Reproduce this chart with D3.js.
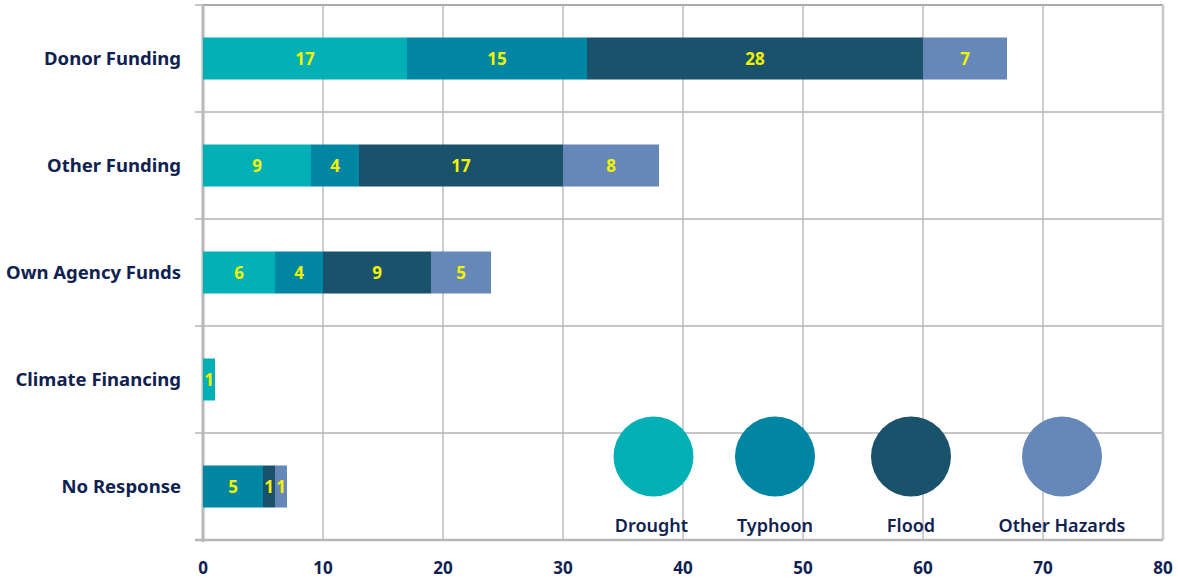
<!DOCTYPE html>
<html><head><meta charset="utf-8">
<script src="https://cdn.jsdelivr.net/npm/d3@7"></script>
<style>body{margin:0;background:#fff;}svg{display:block;font-family:"Noto Sans",sans-serif;}</style>
</head><body><svg id="c" width="1178" height="579"></svg>
<script>
const categories = ["Donor Funding","Other Funding","Own Agency Funds","Climate Financing","No Response"];
const seriesNames = ["Drought","Typhoon","Flood","Other Hazards"];
const drought = [17,9,6,1,0];
const typhoon = [15,4,4,0,5];
const flood = [28,17,9,0,1];
const otherHazards = [7,8,5,0,1];
const xTicks = [0,10,20,30,40,50,60,70,80];
const colors = ["#00b0b5","#0086a3","#1b526b","#6588b9"];

const svg = d3.select("#c");
const L = 203, R = 1163, T = 5, B = 540;
const x = d3.scaleLinear().domain([0,80]).range([L,R]);
const y = d3.scaleBand().domain(categories).range([T,B]).paddingInner(0).paddingOuter(0);
const barH = 42;
const navy = "#0f2150", grid = "#b3b3b3";

svg.append("g").selectAll("line").data(xTicks.slice(1,-1)).join("line")
  .attr("x1",d=>x(d)).attr("x2",d=>x(d)).attr("y1",T).attr("y2",B)
  .attr("stroke",grid).attr("stroke-width",1.3);
const bounds = categories.map(c=>y(c));
svg.append("g").selectAll("line").data(bounds).join("line")
  .attr("x1",195).attr("x2",R).attr("y1",d=>d).attr("y2",d=>d)
  .attr("stroke",grid).attr("stroke-width",1.3);
svg.append("line").attr("x1",L).attr("x2",R).attr("y1",T).attr("y2",T).attr("stroke","#aaa").attr("stroke-width",2);
svg.append("line").attr("x1",R).attr("x2",R).attr("y1",T).attr("y2",B).attr("stroke","#c8c8c8").attr("stroke-width",2.5);
svg.append("line").attr("x1",195).attr("x2",R).attr("y1",B).attr("y2",B).attr("stroke","#b8b8b8").attr("stroke-width",2.5);
svg.append("line").attr("x1",L).attr("x2",L).attr("y1",T).attr("y2",B+2).attr("stroke","#b8b8b8").attr("stroke-width",3);

const rows = categories.map((c,i)=>({cat:c, Drought:drought[i], Typhoon:typhoon[i], Flood:flood[i], "Other Hazards":otherHazards[i]}));
const stack = d3.stack().keys(seriesNames)(rows);
const gBars = svg.append("g");
stack.forEach((s,si)=>{
  s.forEach(d=>{
    const v = d[1]-d[0];
    if(v<=0) return;
    const cy = y(d.data.cat)+y.bandwidth()/2;
    gBars.append("rect").attr("x",x(d[0])).attr("width",x(d[1])-x(d[0]))
      .attr("y",cy-barH/2).attr("height",barH).attr("fill",colors[si]);
    gBars.append("text").attr("x",(x(d[0])+x(d[1]))/2).attr("y",cy)
      .attr("dy","0.36em").attr("text-anchor","middle")
      .attr("font-size",17).attr("font-weight",700).attr("fill","#f2f200").text(v);
  });
});

svg.append("g").selectAll("text").data(categories).join("text")
  .attr("x",181).attr("y",d=>y(d)+y.bandwidth()/2).attr("dy","0.35em")
  .attr("text-anchor","end").attr("font-size",18.5).attr("font-weight",700).attr("fill",navy).text(d=>d);

svg.append("g").selectAll("text").data(xTicks).join("text")
  .attr("x",d=>x(d)).attr("y",568).attr("dy","0.35em")
  .attr("text-anchor","middle").attr("font-size",17).attr("font-weight",700).attr("fill",navy).text(d=>d);

const legX = [653.5,775,911,1062];
const lg = svg.append("g");
seriesNames.forEach((n,i)=>{
  lg.append("circle").attr("cx",legX[i]).attr("cy",456.5).attr("r",40).attr("fill",colors[i]);
  lg.append("text").attr("x",legX[i]-(i===0?2:0)).attr("y",526).attr("dy","0.35em").attr("text-anchor","middle")
    .attr("font-size",18).attr("font-weight",600).attr("fill",navy).text(n);
});
</script></body></html>
